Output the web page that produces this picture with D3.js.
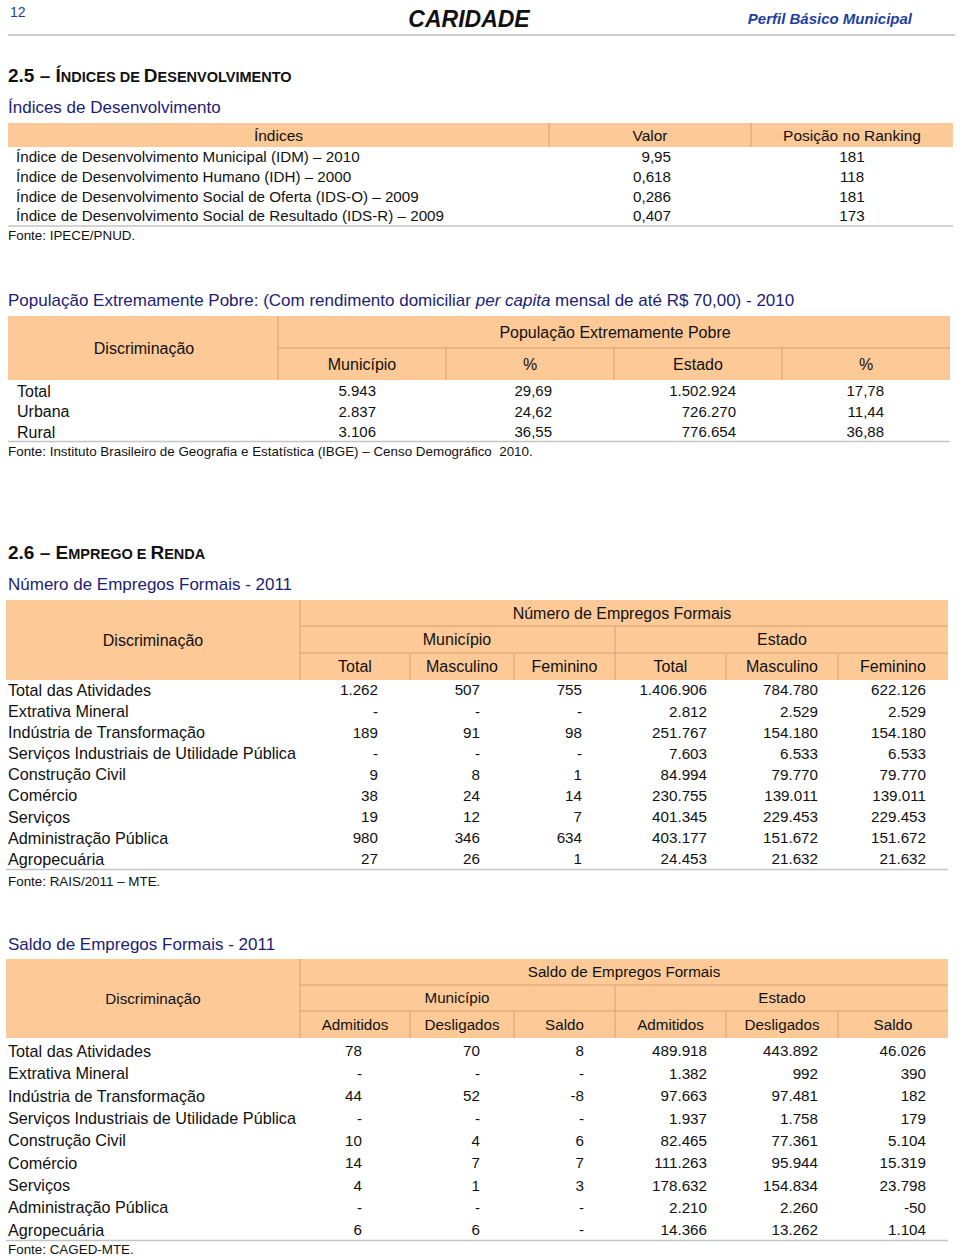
<!DOCTYPE html>
<html><head><meta charset="utf-8">
<script src="https://cdn.jsdelivr.net/npm/d3@7"></script>
<style>
html,body{margin:0;padding:0;background:#fff;}
svg{display:block;font-family:"Liberation Sans",Arial,sans-serif;}
text{white-space:pre;}
</style></head>
<body>
<svg id="page" width="960" height="1256"></svg>
<script>
// ---------- DATA ----------
const pageNumber = "12";
const cityName = "CARIDADE";
const profileLabel = "Perfil Básico Municipal";

const idxLabels = [
  "Índice de Desenvolvimento Municipal (IDM) – 2010",
  "Índice de Desenvolvimento Humano (IDH) – 2000",
  "Índice de Desenvolvimento Social de Oferta (IDS-O) – 2009",
  "Índice de Desenvolvimento Social de Resultado (IDS-R) – 2009"
];
const idxValues = ["9,95", "0,618", "0,286", "0,407"];
const idxRanking = ["181", "118", "181", "173"];
const idxHeaders = ["Índices", "Valor", "Posição no Ranking"];

const povCategories = ["Total", "Urbana", "Rural"];
const povMunicipio = ["5.943", "2.837", "3.106"];
const povMunPct = ["29,69", "24,62", "36,55"];
const povEstado = ["1.502.924", "726.270", "776.654"];
const povEstPct = ["17,78", "11,44", "36,88"];
const povSubHeaders = ["Município", "%", "Estado", "%"];

const empCategories = ["Total das Atividades", "Extrativa Mineral", "Indústria de Transformação",
  "Serviços Industriais de Utilidade Pública", "Construção Civil", "Comércio", "Serviços",
  "Administração Pública", "Agropecuária"];
const empMunTotal = ["1.262", "-", "189", "-", "9", "38", "19", "980", "27"];
const empMunMasc = ["507", "-", "91", "-", "8", "24", "12", "346", "26"];
const empMunFem = ["755", "-", "98", "-", "1", "14", "7", "634", "1"];
const empEstTotal = ["1.406.906", "2.812", "251.767", "7.603", "84.994", "230.755", "401.345", "403.177", "24.453"];
const empEstMasc = ["784.780", "2.529", "154.180", "6.533", "79.770", "139.011", "229.453", "151.672", "21.632"];
const empEstFem = ["622.126", "2.529", "154.180", "6.533", "79.770", "139.011", "229.453", "151.672", "21.632"];
const empSubHeaders = ["Total", "Masculino", "Feminino", "Total", "Masculino", "Feminino"];

const salCategories = empCategories;
const salMunAdm = ["78", "-", "44", "-", "10", "14", "4", "-", "6"];
const salMunDes = ["70", "-", "52", "-", "4", "7", "1", "-", "6"];
const salMunSal = ["8", "-", "-8", "-", "6", "7", "3", "-", "-"];
const salEstAdm = ["489.918", "1.382", "97.663", "1.937", "82.465", "111.263", "178.632", "2.210", "14.366"];
const salEstDes = ["443.892", "992", "97.481", "1.758", "77.361", "95.944", "154.834", "2.260", "13.262"];
const salEstSal = ["46.026", "390", "182", "179", "5.104", "15.319", "23.798", "-50", "1.104"];
const salSubHeaders = ["Admitidos", "Desligados", "Saldo", "Admitidos", "Desligados", "Saldo"];

// ---------- STYLE ----------
const HEAD_FILL = "#fcc997";
const SEP = "#d7a274";
const RULE = "#c4c4c4";
const NAVY = "#1d1d72";
const BLUE = "#1f3f9f";
const TXT = "#111";

const svg = d3.select("#page");

function txt(x, y, s, opt = {}) {
  return svg.append("text").attr("x", x).attr("y", y)
    .attr("font-size", opt.size || 15)
    .attr("font-weight", opt.weight || null)
    .attr("font-style", opt.style || null)
    .attr("font-family", opt.family || null)
    .attr("text-anchor", opt.anchor || "start")
    .attr("fill", opt.fill || TXT)
    .text(s);
}
function line(x1, y1, x2, y2, c, w = 1) {
  svg.append("line").attr("x1", x1).attr("y1", y1).attr("x2", x2).attr("y2", y2)
    .attr("stroke", c).attr("stroke-width", w);
}
function ctxt(x, cy, s, opt = {}) { const sz = opt.size || 15; return txt(x, cy + sz * 0.36, s, opt); }

// small-caps heading: words with an initial capital keep a large first letter
function sectionHeading(x, y, num, words) {
  const t = svg.append("text").attr("x", x).attr("y", y).attr("font-weight", "bold").attr("fill", "#111");
  t.append("tspan").attr("font-size", 19).text(num + " – ");
  words.forEach((w, i) => {
    const sep = i < words.length - 1 ? " " : "";
    if (w[0] === w[0].toUpperCase()) {
      t.append("tspan").attr("font-size", 19).text(w[0]);
      t.append("tspan").attr("font-size", 14.5).text(w.slice(1).toUpperCase() + sep);
    } else {
      t.append("tspan").attr("font-size", 14.5).text(w.toUpperCase() + sep);
    }
  });
}

// ---------- PAGE HEADER ----------
txt(10, 17, pageNumber, { size: 14, fill: BLUE });
txt(469, 27, cityName, { size: 23, weight: "bold", style: "italic", anchor: "middle" });
txt(912, 24, profileLabel, { size: 15, weight: "bold", style: "italic", anchor: "end", fill: BLUE });
line(8, 35, 955, 35, "#cfcfcf", 2);

// ---------- 2.5 ----------
sectionHeading(8, 82, "2.5", ["Índices", "de", "Desenvolvimento"]);
txt(8, 113, "Índices de Desenvolvimento", { size: 17, fill: NAVY });

// Table 1
{
  const x0 = 8, x1 = 953, yTop = 123, yHead = 147;
  const cols = [8, 549, 751, 953];
  svg.append("rect").attr("x", x0).attr("y", yTop).attr("width", x1 - x0).attr("height", yHead - yTop).attr("fill", HEAD_FILL);
  [549, 751].forEach(x => line(x, yTop, x, yHead, SEP));
  idxHeaders.forEach((h, i) => ctxt((cols[i] + cols[i + 1]) / 2, 135.5, h, { anchor: "middle", size: 15.5 }));
  const y = d3.scaleLinear().domain([0, idxLabels.length - 1]).range([157, 216]);
  idxLabels.forEach((d, i) => {
    ctxt(16, y(i), d, { size: 15.2 });
    ctxt(671, y(i), idxValues[i], { size: 15.2, anchor: "end" });
    ctxt(852, y(i), idxRanking[i], { size: 15.2, anchor: "middle" });
  });
  line(x0, 226, x1, 226, RULE, 1.5);
  ctxt(8, 235, "Fonte: IPECE/PNUD.", { size: 13.4 });
}

// Table 2
{
  const t = svg.append("text").attr("x", 8).attr("y", 306).attr("font-size", 17).attr("fill", NAVY);
  t.append("tspan").text("População Extremamente Pobre: (Com rendimento domiciliar ");
  t.append("tspan").attr("font-style", "italic").text("per capita");
  t.append("tspan").text(" mensal de até R$ 70,00) - 2010");

  const x0 = 8, x1 = 950, yTop = 316, yMid = 348, yBot = 380;
  const cols = [278, 446, 614, 782, 950];
  svg.append("rect").attr("x", x0).attr("y", yTop).attr("width", x1 - x0).attr("height", yBot - yTop).attr("fill", HEAD_FILL);
  line(278, yTop, 278, yBot, SEP);
  line(278, yMid, x1, yMid, SEP);
  [446, 614, 782].forEach(x => line(x, yMid, x, yBot, SEP));
  ctxt(144, 348, "Discriminação", { size: 16, anchor: "middle" });
  ctxt(615, 332, "População Extremamente Pobre", { size: 16, anchor: "middle" });
  povSubHeaders.forEach((h, i) => ctxt((cols[i] + cols[i + 1]) / 2, 364, h, { size: 16, anchor: "middle" }));
  const y = d3.scaleLinear().domain([0, povCategories.length - 1]).range([391, 432]);
  const series = [povMunicipio, povMunPct, povEstado, povEstPct];
  const rx = [376, 552, 736, 884];
  povCategories.forEach((c, i) => {
    ctxt(17, y(i), c, { size: 16 });
    series.forEach((s, j) => ctxt(rx[j], y(i), s[i], { size: 15, anchor: "end" }));
  });
  line(x0, 441.5, x1, 441.5, RULE, 1.5);
  ctxt(8, 451, "Fonte: Instituto Brasileiro de Geografia e Estatística (IBGE) – Censo Demográfico  2010.", { size: 13.4 });
}

// ---------- 2.6 ----------
sectionHeading(8, 559, "2.6", ["Emprego", "e", "Renda"]);

function bigTable(o) {
  txt(8, o.titleY, o.title, { size: 17, fill: NAVY });
  const x0 = 6, x1 = 948, [r0, r1, r2, r3] = o.hy;
  const cols = [300, 410, 514, 615, 726, 838, 948];
  const hs = o.headSize;
  svg.append("rect").attr("x", x0).attr("y", r0).attr("width", x1 - x0).attr("height", r3 - r0).attr("fill", HEAD_FILL);
  line(300, r0, 300, r3, SEP);
  line(300, r1, x1, r1, SEP);
  line(300, r2, x1, r2, SEP);
  line(615, r1, 615, r3, SEP);
  [410, 514, 726, 838].forEach(x => line(x, r2, x, r3, SEP));
  ctxt(153, (r0 + r3) / 2, "Discriminação", { size: hs, anchor: "middle" });
  ctxt(o.topX, (r0 + r1) / 2, o.top, { size: hs, anchor: "middle" });
  ctxt(457, (r1 + r2) / 2, "Município", { size: hs, anchor: "middle" });
  ctxt(782, (r1 + r2) / 2, "Estado", { size: hs, anchor: "middle" });
  o.sub.forEach((h, i) => ctxt((cols[i] + cols[i + 1]) / 2, (r2 + r3) / 2, h, { size: hs, anchor: "middle" }));
  const y = d3.scaleLinear().domain([0, o.cats.length - 1]).range(o.rowRange);
  o.cats.forEach((c, i) => {
    ctxt(8, y(i), c, { size: 16.2 });
    o.series.forEach((s, j) => ctxt(o.rx[j], y(i), s[i], { size: 15.2, anchor: "end" }));
  });
  line(x0, o.ruleY, x1, o.ruleY, RULE, 1.5);
  ctxt(8, o.fonteY, o.fonte, { size: 13.4 });
}

bigTable({
  title: "Número de Empregos Formais - 2011", titleY: 590, headSize: 16,
  hy: [600, 626, 653, 680], top: "Número de Empregos Formais", topX: 622,
  sub: empSubHeaders, cats: empCategories,
  series: [empMunTotal, empMunMasc, empMunFem, empEstTotal, empEstMasc, empEstFem],
  rx: [378, 480, 582, 707, 818, 926], rowRange: [690, 859],
  ruleY: 869.5, fonteY: 881, fonte: "Fonte: RAIS/2011 – MTE."
});

bigTable({
  title: "Saldo de Empregos Formais - 2011", titleY: 950, headSize: 15.2,
  hy: [959, 985, 1011, 1038], top: "Saldo de Empregos Formais", topX: 624,
  sub: salSubHeaders, cats: salCategories,
  series: [salMunAdm, salMunDes, salMunSal, salEstAdm, salEstDes, salEstSal],
  rx: [362, 480, 584, 707, 818, 926], rowRange: [1051, 1230],
  ruleY: 1240.5, fonteY: 1249, fonte: "Fonte: CAGED-MTE."
});
</script>
</body></html>
